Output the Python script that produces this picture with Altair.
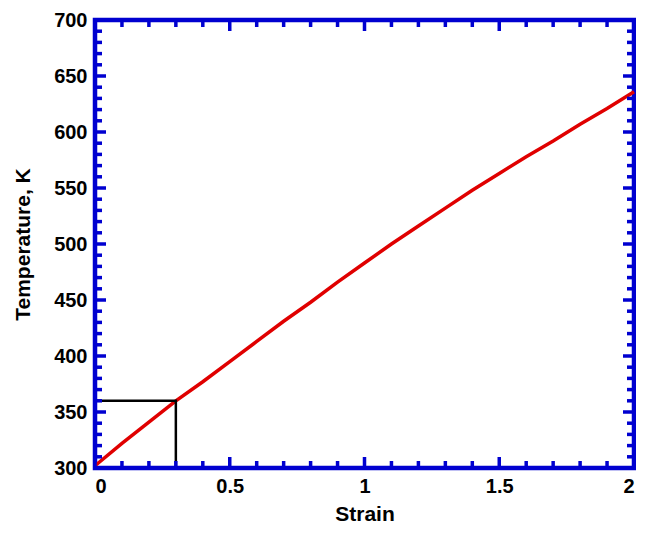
import altair as alt
import pandas as pd

# Data
strain = [0.0, 0.1, 0.2, 0.3, 0.4, 0.5, 0.6, 0.7, 0.8, 0.9, 1.0,
          1.1, 1.2, 1.3, 1.4, 1.5, 1.6, 1.7, 1.8, 1.9, 2.0]
temperature = [302, 322, 341, 360, 377, 395, 413, 431, 448, 466, 483,
               500, 516, 532, 548, 563, 578, 592, 607, 621, 636]

guide_strain = [0.0, 0.3, 0.3]
guide_temp = [360, 360, 300]

x_major = [0, 0.5, 1, 1.5, 2]
x_minor = [0.1, 0.2, 0.3, 0.4, 0.6, 0.7, 0.8, 0.9, 1.1, 1.2, 1.3, 1.4,
           1.6, 1.7, 1.8, 1.9]
y_major = [300, 350, 400, 450, 500, 550, 600, 650, 700]
y_minor = [v for v in range(310, 700, 10) if v % 50 != 0]

W, H = 539, 448
BLUE = "#0000d0"
RED = "#e00000"
FONT = "Liberation Sans"

x_axis = alt.Axis(values=x_major, ticks=False, domain=False, grid=False,
                  labelFontSize=20, labelFont=FONT, labelFontWeight="bold",
                  labelColor="black", labelPadding=8,
                  titleFontSize=21, titleFont=FONT, titleFontWeight="bold",
                  titleColor="black", titlePadding=7,
                  labelExpr="format(datum.value, '~g')")
y_axis = alt.Axis(values=y_major, ticks=False, domain=False, grid=False,
                  labelFontSize=20, labelFont=FONT, labelFontWeight="bold",
                  labelColor="black", labelPadding=8,
                  titleFontSize=21, titleFont=FONT, titleFontWeight="bold",
                  titleColor="black", titlePadding=20)

xs = alt.Scale(domain=[0, 2], nice=False, zero=False)
ys = alt.Scale(domain=[300, 700], nice=False, zero=False)

curve = pd.DataFrame({"strain": strain, "temp": temperature})
guide = pd.DataFrame({"strain": guide_strain, "temp": guide_temp,
                      "order": list(range(len(guide_strain)))})

line = alt.Chart(curve).mark_line(color=RED, strokeWidth=3.5).encode(
    x=alt.X("strain:Q", scale=xs, title="Strain", axis=x_axis),
    y=alt.Y("temp:Q", scale=ys, title="Temperature, K", axis=y_axis),
)

guides = alt.Chart(guide).mark_line(color="black", strokeWidth=2.5).encode(
    x=alt.X("strain:Q", scale=xs, title="Strain", axis=x_axis),
    y=alt.Y("temp:Q", scale=ys, title="Temperature, K", axis=y_axis),
    order="order:Q",
)

def xticks(vals, length):
    df = pd.DataFrame({"v": vals})
    bottom = alt.Chart(df).mark_rule(color=BLUE, strokeWidth=3.5).encode(
        x=alt.X("v:Q", scale=xs, title="Strain", axis=x_axis),
        y=alt.value(H), y2=alt.value(H - length))
    top = alt.Chart(df).mark_rule(color=BLUE, strokeWidth=3.5).encode(
        x=alt.X("v:Q", scale=xs, title="Strain", axis=x_axis),
        y=alt.value(0), y2=alt.value(length))
    return bottom + top

def yticks(vals, length):
    df = pd.DataFrame({"v": vals})
    left = alt.Chart(df).mark_rule(color=BLUE, strokeWidth=3.5).encode(
        y=alt.Y("v:Q", scale=ys, title="Temperature, K", axis=y_axis),
        x=alt.value(0), x2=alt.value(length))
    right = alt.Chart(df).mark_rule(color=BLUE, strokeWidth=3.5).encode(
        y=alt.Y("v:Q", scale=ys, title="Temperature, K", axis=y_axis),
        x=alt.value(W), x2=alt.value(W - length))
    return left + right

chart = alt.layer(
    line, guides,
    xticks(x_minor, 7), xticks(x_major, 11),
    yticks(y_minor, 7), yticks(y_major, 11),
).properties(
    width=W, height=H,
    autosize=alt.AutoSizeParams(type="none"),
    padding={"left": 87, "top": 12, "right": 2, "bottom": 55},
).configure(
    background="white",
    view=alt.ViewConfig(stroke=BLUE, strokeWidth=4.5),
)

chart.save("out.html", embed_options={"renderer": "svg", "actions": False})
